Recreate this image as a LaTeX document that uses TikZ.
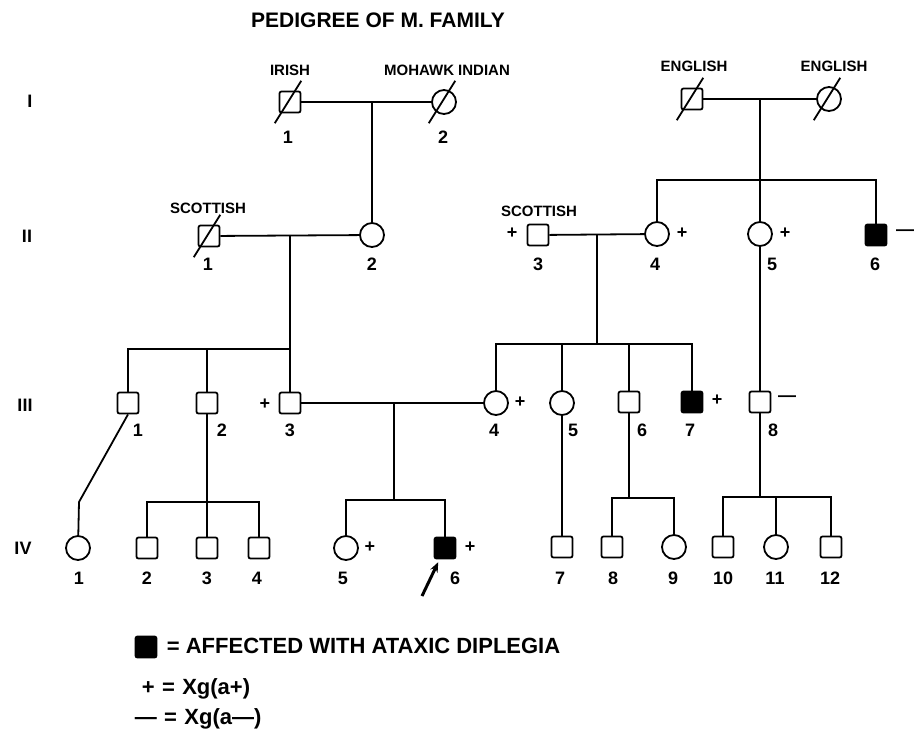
\documentclass[tikz,border=0pt]{standalone}
\usepackage{fontspec}
\setmainfont{Liberation Sans}
\usetikzlibrary{arrows.meta}

\begin{document}
\begin{tikzpicture}[x=1pt,y=-1pt,line width=1.8pt,
    male/.style={draw,rounded corners=2pt,minimum size=21pt,inner sep=0pt},
    female/.style={draw,circle,minimum size=24pt,inner sep=0pt},
    aff/.style={fill=black},
    num/.style={font=\bfseries\fontsize{18}{18}\selectfont,inner sep=0pt},
    gen/.style={font=\bfseries\fontsize{18}{18}\selectfont,inner sep=0pt},
    eth/.style={font=\bfseries\fontsize{15}{15}\selectfont,inner sep=0pt},
    sgn/.style={font=\bfseries\fontsize{18}{18}\selectfont,inner sep=0pt},
    key/.style={font=\bfseries\fontsize{22}{22}\selectfont,inner sep=0pt,anchor=base west},
    pointer/.style={-{Stealth[length=10pt,width=8pt]},line width=3pt},
  ]
    \useasboundingbox (0,0) rectangle (923,732);

    \node[font=\bfseries\fontsize{21}{21}\selectfont] (title) at (378,20) {PEDIGREE OF M. FAMILY};

    \node[gen] (gI)   at (30,101) {I};
    \node[gen] (gII)  at (27,236) {II};
    \node[gen] (gIII) at (25,405) {III};
    \node[gen] (gIV)  at (23,548) {IV};

    % generation I
    \node[male]   (I1) at (290,102) {};
    \node[female] (I2) at (444,102) {};
    \node[male]   (I3) at (692,99)  {};
    \node[female] (I4) at (829,99)  {};
    \node[eth] (eI1) at (290,70) {IRISH};
    \node[eth] (eI2) at (447,70) {MOHAWK INDIAN};
    \node[eth] (eI3) at (694,66) {ENGLISH};
    \node[eth] (eI4) at (834,66) {ENGLISH};
    \node[num] (nI1) at (288,137) {1};
    \node[num] (nI2) at (443,137) {2};

    % generation II
    \node[male]     (II1) at (209,236) {};
    \node[female]   (II2) at (372,235) {};
    \node[male]     (II3) at (538,235) {};
    \node[female]   (II4) at (657,234) {};
    \node[female]   (II5) at (760,234) {};
    \node[male,aff] (II6) at (876,235) {};
    \node[eth] (eII1) at (208,208) {SCOTTISH};
    \node[eth] (eII3) at (539,211) {SCOTTISH};
    \foreach \x/\n in {208/1,372/2,538/3,655/4,772/5,875/6}
      \node[num] (nII\n) at (\x,264) {\n};
    \node[sgn] (pII3) at (512,233) {+};
    \node[sgn] (pII4) at (682,233) {+};
    \node[sgn] (pII5) at (785,233) {+};
    \node[sgn] (mII6) at (905,233) {—};

    % generation III
    \node[male]     (III1) at (128,403) {};
    \node[male]     (III2) at (207,403) {};
    \node[male]     (III3) at (290,403) {};
    \node[female]   (III4) at (496,403) {};
    \node[female]   (III5) at (562,403) {};
    \node[male]     (III6) at (629,402) {};
    \node[male,aff] (III7) at (692,402) {};
    \node[male]     (III8) at (760,402) {};
    \foreach \x/\n in {138/1,222/2,290/3,494/4,573/5,642/6,690/7,773/8}
      \node[num] (nIII\n) at (\x,430) {\n};
    \node[sgn] (pIII3) at (265,404) {+};
    \node[sgn] (pIII4) at (520,402) {+};
    \node[sgn] (pIII7) at (717,400) {+};
    \node[sgn] (mIII8) at (787,399) {—};

    % generation IV
    \node[female]   (IV1)  at (78,548)  {};
    \node[male]     (IV2)  at (147,548) {};
    \node[male]     (IV3)  at (207,548) {};
    \node[male]     (IV4)  at (259,548) {};
    \node[female]   (IV5)  at (346,548) {};
    \node[male,aff] (IV6)  at (445,548) {};
    \node[male]     (IV7)  at (562,547) {};
    \node[male]     (IV8)  at (612,547) {};
    \node[female]   (IV9)  at (674,547) {};
    \node[male]     (IV10) at (723,547) {};
    \node[female]   (IV11) at (776,547) {};
    \node[male]     (IV12) at (831,547) {};
    \foreach \x/\n in {79/1,147/2,207/3,257/4,343/5,455/6,560/7,613/8,673/9,723/10,775/11,830/12}
      \node[num] (nIV\n) at (\x,578) {\n};
    \node[sgn] (pIV5) at (370,547) {+};
    \node[sgn] (pIV6) at (470,547) {+};

    \foreach \n in {I1,I2,I3,I4,II1}
      \draw (\n) ++(-2pt,0pt) ++(238:25pt) -- ++(58:50pt);

    % lines of descent
    \coordinate (mI12)   at (372,102);
    \coordinate (mI34)   at (760,99);
    \coordinate (sII)    at (760,180);
    \draw (I1) -- (I2);
    \draw (mI12) -- (II2);
    \draw (I3) -- (I4);
    \draw (mI34) -- (sII);
    \draw (II4) |- (sII) -| (II6);
    \draw (sII) -- (II5);

    \coordinate (mII12)  at (290,236);
    \coordinate (sIIIa)  at (290,349);
    \draw (II1) -- (II2);
    \draw (mII12) -- (sIIIa);
    \draw (III1) |- (sIIIa) -- (III3);
    \draw (III2) -- (III2 |- sIIIa);

    \coordinate (mII34)  at (597,235);
    \coordinate (sIIIb)  at (597,344);
    \draw (II3) -- (II4);
    \draw (mII34) -- (sIIIb);
    \draw (III4) |- (sIIIb) -| (III7);
    \draw (III5) -- (III5 |- sIIIb);
    \draw (III6) -- (III6 |- sIIIb);
    \draw (II5) -- (III8);

    \coordinate (kIV1)   at (79,502);
    \draw (III1.south) -- (kIV1) -- (IV1);
    \coordinate (sIVb)   at (207,502);
    \draw (III2) -- (IV3);
    \draw (IV2) |- (sIVb) -| (IV4);

    \coordinate (mIII34) at (394,403);
    \coordinate (sIVc)   at (394,500);
    \draw (III3) -- (III4);
    \draw (mIII34) -- (sIVc);
    \draw (IV5) |- (sIVc) -| (IV6);
    \draw (III5) -- (IV7);

    \coordinate (sIVd)   at (629,498);
    \draw (III6) -- (sIVd);
    \draw (IV8) |- (sIVd) -| (IV9);

    \coordinate (sIVe)   at (760,497);
    \draw (III8) -- (sIVe);
    \draw (IV10) |- (sIVe) -| (IV12);
    \draw (IV11) -- (IV11 |- sIVe);

    \coordinate (arw) at (422,596);
    \draw[pointer,shorten >=3pt] (arw) -- (IV6);

    % key
    \node[male,aff] (kAff) at (146,647) {};
    \node[key] (kAffT) at (166,653) {= AFFECTED WITH ATAXIC DIPLEGIA};
    \node[key] (kPos)  at (141,694) {+\,\,=\,\,Xg(a+)};
    \node[key] (kNeg)  at (134,724) {—\,\,=\,\,Xg(a—)};
  \end{tikzpicture}
\end{document}
